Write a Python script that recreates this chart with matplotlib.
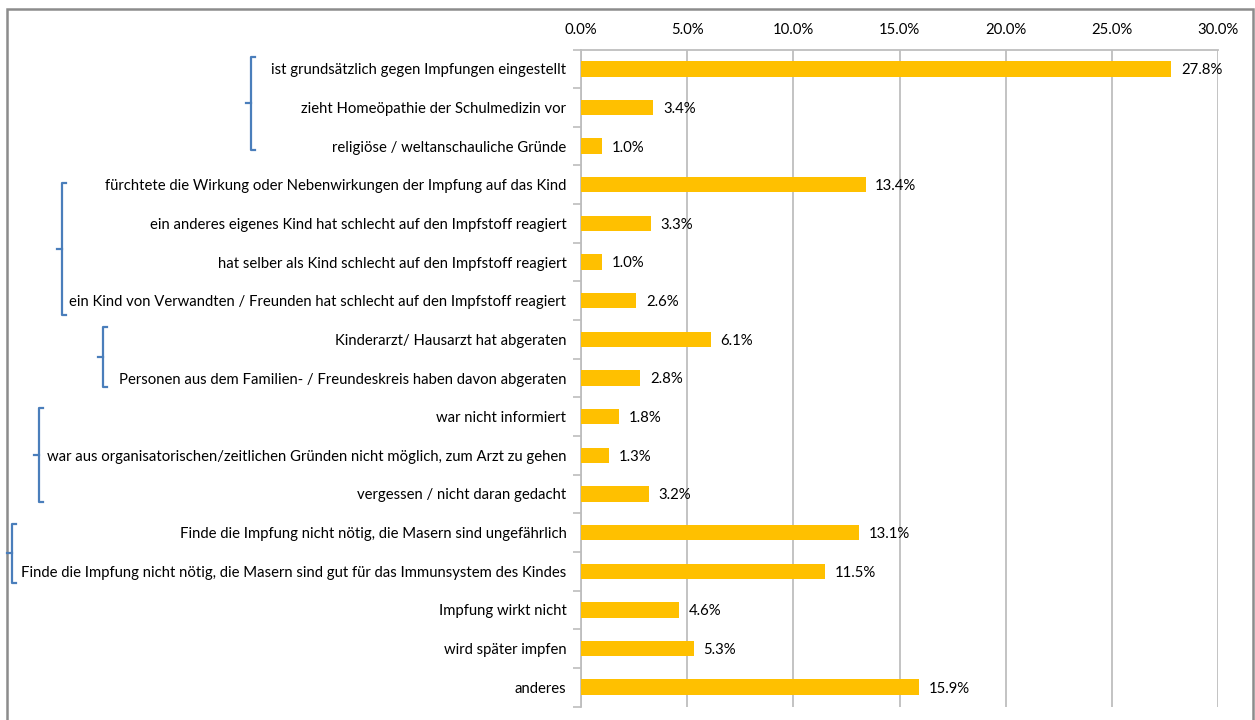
import matplotlib
matplotlib.use("Agg")
import matplotlib.pyplot as plt
from matplotlib.patches import Rectangle
from matplotlib.transforms import blended_transform_factory
from matplotlib.ticker import FixedLocator, FuncFormatter
import numpy as np

categories = [
    "ist grundsätzlich gegen Impfungen eingestellt",
    "zieht Homeöpathie der Schulmedizin vor",
    "religiöse / weltanschauliche Gründe",
    "fürchtete die Wirkung oder Nebenwirkungen der Impfung auf das Kind",
    "ein anderes eigenes Kind hat schlecht auf den Impfstoff reagiert",
    "hat selber als Kind schlecht auf den Impfstoff reagiert",
    "ein Kind von Verwandten / Freunden hat schlecht auf den Impfstoff reagiert",
    "Kinderarzt/ Hausarzt hat abgeraten",
    "Personen aus dem Familien- / Freundeskreis haben davon abgeraten",
    "war nicht informiert",
    "war aus organisatorischen/zeitlichen Gründen nicht möglich, zum Arzt zu gehen",
    "vergessen / nicht daran gedacht",
    "Finde die Impfung nicht nötig, die Masern sind ungefährlich",
    "Finde die Impfung nicht nötig, die Masern sind gut für das Immunsystem des Kindes",
    "Impfung wirkt nicht",
    "wird später impfen",
    "anderes",
]
values = [27.8, 3.4, 1.0, 13.4, 3.3, 1.0, 2.6, 6.1, 2.8, 1.8, 1.3, 3.2, 13.1, 11.5, 4.6, 5.3, 15.9]
x_ticks = [0, 5, 10, 15, 20, 25, 30]
# bracket groups: (first index, last index)
groups = [(0, 2), (3, 6), (7, 8), (9, 11), (12, 13)]
# bracket layout: x in figure pixels, extension above first / below last (category units)
bracket_px = [251, 62, 103, 39, 12]
bracket_ext = [(0.31, 0.1), (0.05, 0.36), (0.31, 0.23), (0.22, 0.2), (0.23, 0.31)]

W, H = 1255, 720
fig = plt.figure(figsize=(W / 100, H / 100), dpi=100)
plt.rcParams['font.family'] = ['Lato', 'DejaVu Sans']
FS = 10.7

ax = fig.add_axes([581 / W, 1 - 706.5 / H, (1218 - 581) / W, (706.5 - 49.5) / H])

y = np.arange(len(categories))
ax.barh(y, values, height=0.4, color="#FFC000", zorder=3)
ax.set_ylim(len(categories) - 0.5, -0.5)
ax.set_xlim(0, 30)

# value labels
for yi, v in zip(y, values):
    ax.annotate(f"{v:.1f}%", xy=(v, yi), xytext=(7, -1), textcoords="offset points",
                va="center", ha="left", fontsize=FS, color="#000000")

# x axis on top
ax.xaxis.set_ticks_position("top")
ax.xaxis.set_major_locator(FixedLocator(x_ticks))
ax.xaxis.set_major_formatter(FuncFormatter(lambda v, p: f"{v:.1f}%"))
ax.tick_params(axis="x", length=0, pad=9, labelsize=FS, colors="#000000")
ax.grid(axis="x", color="#BEBEBE", linewidth=1.3, zorder=0)

# y axis: boundaries as major ticks, labels as minor ticks
ax.yaxis.set_major_locator(FixedLocator(np.arange(-0.5, len(categories), 1.0)))
ax.yaxis.set_major_formatter(FuncFormatter(lambda v, p: ""))
ax.yaxis.set_minor_locator(FixedLocator(y))
ax.set_yticklabels(categories, minor=True)
ax.tick_params(axis="y", which="major", length=6, width=1.2, color="#BEBEBE", direction="out")
ax.tick_params(axis="y", which="minor", length=0, pad=10.5, labelsize=FS, colors="#000000")

for s in ["right", "bottom"]:
    ax.spines[s].set_visible(False)
ax.spines["left"].set_color("#BEBEBE")
ax.spines["left"].set_linewidth(1.3)
ax.spines["top"].set_color("#BEBEBE")
ax.spines["top"].set_linewidth(1.3)

# brackets: x in figure pixels, y in data units
trans = blended_transform_factory(fig.transFigure, ax.transData)
bc = "#4A7EBB"
for (a, b), px, (et, eb) in zip(groups, bracket_px, bracket_ext):
    xf = px / W
    hook = 4 / W
    nub = 5 / W
    top = a - et
    bot = b + eb
    mid = (top + bot) / 2
    fig.add_artist(plt.Line2D([xf + hook, xf, xf, xf + hook], [top, top, bot, bot],
                              transform=trans, color=bc, linewidth=1.6, clip_on=False,
                              solid_joinstyle="round"))
    fig.add_artist(plt.Line2D([xf - nub, xf], [mid, mid], transform=trans, color=bc,
                              linewidth=1.6, clip_on=False))

# figure border
fig.add_artist(Rectangle((7 / W, -0.01), (1253 - 7) / W, 1 - 9 / H + 0.01,
                         transform=fig.transFigure, fill=False, edgecolor="#8C8C8C",
                         linewidth=1.8))

fig.savefig("out.png", dpi=100)
